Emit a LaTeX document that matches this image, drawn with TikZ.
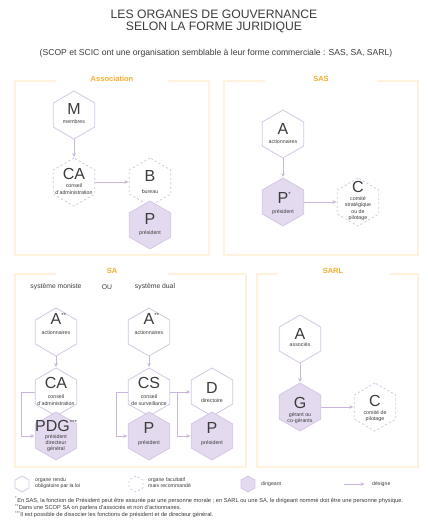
\documentclass[tikz,border=0pt]{standalone}
\usepackage{fontspec}
\setmainfont{Liberation Sans}
\usepackage{xcolor}
\usepackage{tikz}
\usetikzlibrary{arrows.meta, positioning, shapes.geometric, calc}

\definecolor{hexline}{HTML}{D5C8E4}
\definecolor{hexfill}{HTML}{E4DAEF}
\definecolor{arrowc}{HTML}{C8B6DC}
\definecolor{boxline}{HTML}{FFF2DC}
\definecolor{boxtitle}{HTML}{F8AE2E}
\definecolor{textgray}{HTML}{3C3C3C}

% big letter and caption inside a hexagon
\newcommand{\hexlabel}[5]{%
  \node[letter] at ($(#1)+(0,#2)$) {#3};
  \node[caption] at ($(#1)+(0,#4)$) {#5};
}
\newcommand{\stars}[1]{\rlap{\raisebox{7pt}{\fontsize{6}{6}\selectfont #1}}}

\begin{document}
\begin{tikzpicture}[
  x=1pt, y=-1pt,
  hex/.style={regular polygon, regular polygon sides=6, shape border rotate=30,
    minimum size=48pt, inner sep=0pt, draw=hexline, line width=0.8pt},
  optional/.style={hex, dash pattern=on 2.2pt off 2.2pt},
  leader/.style={hex, fill=hexfill, draw=hexline},
  arrow/.style={draw=arrowc, line width=0.7pt, -{Stealth[length=4pt,width=3.6pt]}, shorten >=0.5pt},
  frame/.style={draw=boxline, line width=1.6pt},
  formtitle/.style={text=boxtitle, font=\bfseries\fontsize{7.5}{8}\selectfont, inner sep=0pt},
  letter/.style={text=textgray, font=\fontsize{16}{16}\selectfont, inner sep=0pt},
  caption/.style={text=textgray, align=center, font=\fontsize{5.3}{6.3}\selectfont, inner sep=0pt},
  note/.style={text=textgray, anchor=west, inner sep=0pt, font=\fontsize{5.2}{6}\selectfont}
]
\useasboundingbox[fill=white] (0,0) rectangle (428,522);

% Titles
\node[text=textgray, align=center, font=\fontsize{12.2}{12.5}\selectfont, inner sep=0pt] (title) at (214,21.5)
  {LES ORGANES DE GOUVERNANCE\\SELON LA FORME JURIDIQUE};
\node[text=textgray, font=\fontsize{8.6}{9}\selectfont, inner sep=0pt] (subtitle) at (216,53)
  {(SCOP et SCIC ont une organisation semblable à leur forme commerciale : SAS, SA, SARL)};

% Frames
\draw[frame] (56,81) -| (15,255) -| (209,81) -- (168,81);
\draw[frame] (265,81) -| (224,255) -| (418,81) -- (377,81);
\draw[frame] (56,274) -| (15,467) -| (246,274) -- (168,274);
\draw[frame] (278,274) -| (257,467) -| (418,274) -- (390,274);
\node[formtitle] (tassoc) at (112,79) {Association};
\node[formtitle] (tsas) at (321,79) {SAS};
\node[formtitle] (tsa) at (112,271) {SA};
\node[formtitle] (tsarl) at (333,271) {SARL};

% Nodes
\node[hex] (m) at (74,115) {};
\node[optional] (ca1) at (74,182) {};
\node[optional] (b) at (150,182) {};
\node[leader] (p1) at (150,225) {};

\node[hex] (a1) at (283,134) {};
\node[leader] (p2) at (283,202) {};
\node[optional] (c1) at (358,202) {};

\node[text=textgray, font=\fontsize{6.8}{7}\selectfont, inner sep=0pt] (moniste) at (56,287) {système moniste};
\node[text=textgray, font=\fontsize{6.8}{7}\selectfont, inner sep=0pt] (ou) at (107,287) {OU};
\node[text=textgray, font=\fontsize{6.8}{7}\selectfont, inner sep=0pt] (dual) at (155,287) {système dual};
\node[hex] (a2) at (56,332) {};
\node[hex] (ca2) at (56,392) {};
\node[leader] (pdg) at (56,436) {};
\node[hex] (a3) at (149,332) {};
\node[hex] (cs) at (149,392) {};
\node[leader] (p3) at (149,436) {};
\node[hex] (d) at (212,392) {};
\node[leader] (p4) at (212,436) {};

\node[hex] (a4) at (300,339) {};
\node[leader] (g) at (300,407) {};
\node[optional] (c2) at (375,407) {};

% Texts
\hexlabel{m}{-6}{M}{7}{membres}
\hexlabel{ca1}{-8}{CA}{7}{conseil\\d'administration}
\hexlabel{b}{-6}{B}{10}{bureau}
\hexlabel{p1}{-6}{P}{8}{président}
\hexlabel{a1}{-5}{A}{8}{actionnaires}
\hexlabel{p2}{-4}{P\stars{*}}{10}{président}
\hexlabel{c1}{-15}{C}{6.5}{\fontsize{5.3}{5.8}\selectfont comité\\stratégique\\ou de\\pilotage}
\hexlabel{a2}{-13}{A\stars{**}}{1}{actionnaires}
\hexlabel{ca2}{-9}{CA}{8}{conseil\\d'administration}
\hexlabel{pdg}{-10}{PDG\raisebox{7pt}{\fontsize{6}{6}\selectfont ***}}{7}{président\\directeur\\général}
\hexlabel{a3}{-13}{A\stars{**}}{1}{actionnaires}
\hexlabel{cs}{-9}{CS}{8}{conseil\\de surveillance}
\hexlabel{d}{-4}{D}{9}{directoire}
\hexlabel{p3}{-8}{P}{7}{président}
\hexlabel{p4}{-8}{P}{7}{président}
\hexlabel{a4}{-5}{A}{6}{associés}
\hexlabel{g}{-4}{G}{11}{gérant ou\\co-gérants}
\hexlabel{c2}{-6}{C}{9}{comité de\\pilotage}

% Pointers
\draw[arrow] (m) -- (ca1);
\draw[arrow] (ca1) -- (b);
\draw[arrow] (a1) -- (p2);
\draw[arrow] (p2) -- (c1);
\draw[arrow] (a2) -- (ca2);
\draw[arrow] (ca2.west) -- ++(-13,0) |- (pdg.west);
\draw[arrow] (a3) -- (cs);
\draw[arrow] (cs.west) -- ++(-11,0) |- (p3.west);
\draw[arrow] (cs.east) -- (d.west);
\draw[arrow] ([xshift=7pt]cs.east) |- (p4.west);
\draw[arrow] (a4) -- (g);
\draw[arrow] (g) -- (c2);

% Legend
\node[hex, minimum size=16pt] (lg-hex) at (22,484) {};
\node[note, align=left] (lg-hex-t) at (35,483) {organe rendu\\obligatoire par la loi};
\node[optional, minimum size=16pt] (lg-opt) at (136,484) {};
\node[note, align=left] (lg-opt-t) at (148,483) {organe facultatif\\mais recommandé};
\node[leader, minimum size=16pt] (lg-lead) at (248,484) {};
\node[note] (lg-lead-t) at (261,484) {dirigeant};
\coordinate (lg-a) at (344,484);
\coordinate (lg-b) at (365,484);
\draw[arrow] (lg-a) -- (lg-b);
\node[note] (lg-arrow-t) at (372,484) {désigne};

% Footnotes
\node[note, align=left, font=\fontsize{5.7}{5.3}\selectfont] (notes) at (15,507.5)
  {\textsuperscript{*}En SAS, la fonction de Président peut être assurée par une personne morale ; en SARL ou une SA, le dirigeant nommé doit être une personne physique.\\
   \textsuperscript{**}Dans une SCOP SA on parlera d'associés et non d'actionnaires.\\
   \textsuperscript{***}Il est possible de dissocier les fonctions de président et de directeur général.};

\end{tikzpicture}
\end{document}
